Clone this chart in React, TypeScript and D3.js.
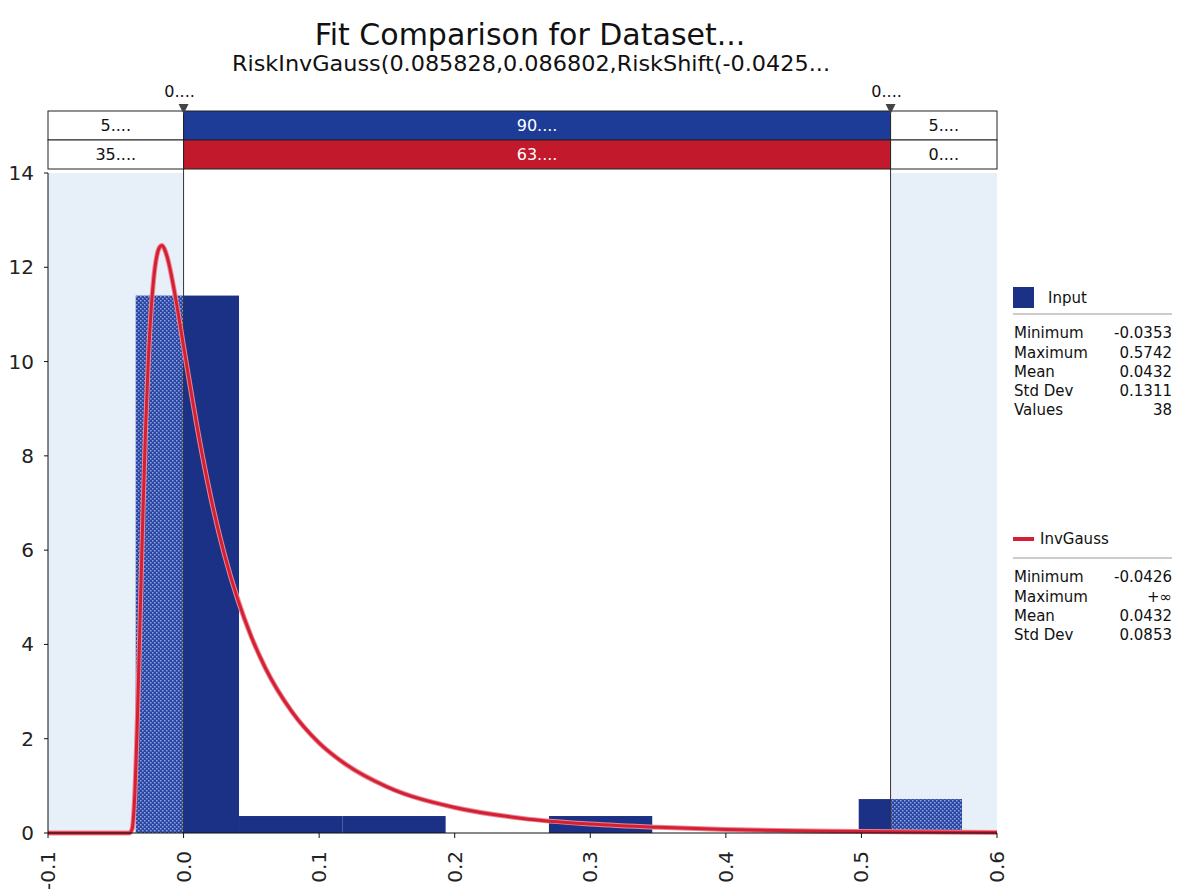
import React from "react";
import * as d3 from "d3";

const titleText = "Fit Comparison for Dataset...";
const subtitleText = "RiskInvGauss(0.085828,0.086802,RiskShift(-0.0425...";

const xTicks = [-0.1, 0, 0.1, 0.2, 0.3, 0.4, 0.5, 0.6];
const xTickLabels = ["-0.1", "0.0", "0.1", "0.2", "0.3", "0.4", "0.5", "0.6"];
const yTicks = [0, 2, 4, 6, 8, 10, 12, 14];

const binEdges = [-0.0353, 0.0409, 0.1171, 0.1933, 0.2695, 0.3457, 0.4219, 0.498, 0.5742];
const binDensity = [11.4, 0.36, 0.36, 0, 0.36, 0, 0, 0.72];

const markers = [0.0, 0.5215];
const markerLabels = ["0....", "0...."];
const inputPct = ["5....", "90....", "5...."];
const fitPct = ["35....", "63....", "0...."];

const curveX = [-0.1, -0.0426, -0.04, -0.038, -0.036, -0.034, -0.032, -0.03, -0.028, -0.026, -0.024, -0.022, -0.02, -0.018, -0.016, -0.014, -0.012, -0.01, -0.008, -0.005, 0, 0.005, 0.01, 0.02, 0.03, 0.04, 0.05, 0.06, 0.08, 0.1, 0.12, 0.15, 0.2, 0.25, 0.3, 0.35, 0.4, 0.45, 0.5, 0.55, 0.6];
const curveY = [0, 0, 0.0001, 0.08, 0.81, 2.48, 4.64, 6.77, 8.6, 10.03, 11.07, 11.77, 12.2, 12.41, 12.46, 12.38, 12.21, 11.97, 11.68, 11.2, 10.32, 9.45, 8.61, 7.13, 5.92, 4.95, 4.16, 3.52, 2.57, 1.91, 1.45, 0.98, 0.54, 0.31, 0.19, 0.12, 0.073, 0.047, 0.031, 0.02, 0.013];

const inputStatsLabels = ["Minimum", "Maximum", "Mean", "Std Dev", "Values"];
const inputStatsValues = ["-0.0353", "0.5742", "0.0432", "0.1311", "38"];
const fitStatsLabels = ["Minimum", "Maximum", "Mean", "Std Dev"];
const fitStatsValues = ["-0.0426", "+\u221e", "0.0432", "0.0853"];

const W = 1177;
const H = 892;
const M = { left: 48, right: 997, top: 173, bottom: 833 };
const FONT = "'DejaVu Sans', Verdana, sans-serif";
const BAR = "#1a3186";
const BLUE_TOP = "#1d3c97";
const RED_TOP = "#c21a2c";
const CURVE = "#d22035";
const SHADE = "#e7eff8";

export default function App() {
  const x = d3.scaleLinear().domain([-0.1, 0.6]).range([M.left, M.right]);
  const y = d3.scaleLinear().domain([0, 14]).range([M.bottom, M.top]);
  const m0 = x(markers[0]);
  const m1 = x(markers[1]);

  const line = d3
    .line<number>()
    .x((_, i) => x(curveX[i]))
    .y((d) => y(d))
    .curve(d3.curveMonotoneX);

  const row1Y = 111;
  const row2Y = 140;
  const rowH = 29;

  const segs: { x0: number; x1: number; h: number; hatched: boolean }[] = [];
  binDensity.forEach((d, i) => {
    if (d <= 0) return;
    const a = binEdges[i];
    const b = binEdges[i + 1];
    const cuts = [a, ...markers.filter((m) => m > a && m < b), b];
    for (let k = 0; k < cuts.length - 1; k++) {
      const mid = (cuts[k] + cuts[k + 1]) / 2;
      segs.push({
        x0: cuts[k],
        x1: cuts[k + 1],
        h: d,
        hatched: mid < markers[0] || mid > markers[1],
      });
    }
  });

  const boxes = [
    { x0: M.left, x1: m0 },
    { x0: m0, x1: m1 },
    { x0: m1, x1: M.right },
  ];

  const legX = 1013;
  const legR = 1172;

  return (
    <svg
      width={W}
      height={H}
      style={{ position: "absolute", left: 0, top: 0, background: "#fff" }}
      fontFamily={FONT}
    >
      <defs>
        <pattern id="hatch" width="4" height="4" patternUnits="userSpaceOnUse">
          <rect width="4" height="4" fill="#2a46a4" />
          <rect x="0" y="0" width="1.5" height="1.5" fill="#8fa2d8" />
          <rect x="2" y="2" width="1.5" height="1.5" fill="#8fa2d8" />
        </pattern>
      </defs>

      <text x={530} y={45} textAnchor="middle" fontSize={30} fill="#111">
        {titleText}
      </text>
      <text
        x={531}
        y={71}
        textAnchor="middle"
        fontSize={21}
        fill="#111"
        textLength={598}
        lengthAdjust="spacingAndGlyphs"
      >
        {subtitleText}
      </text>

      <rect x={M.left} y={M.top} width={m0 - M.left} height={M.bottom - M.top} fill={SHADE} />
      <rect x={m1} y={M.top} width={M.right - m1} height={M.bottom - M.top} fill={SHADE} />

      {segs.map((s, i) => (
        <rect
          key={i}
          x={x(s.x0)}
          y={y(s.h)}
          width={x(s.x1) - x(s.x0)}
          height={y(0) - y(s.h)}
          fill={s.hatched ? "url(#hatch)" : BAR}
        />
      ))}

      {[m0, m1].map((mx, i) => (
        <line key={i} x1={mx} x2={mx} y1={row1Y} y2={M.bottom} stroke="#333" strokeWidth={1} />
      ))}

      <path d={line(curveY) || ""} fill="none" stroke="#ee8592" strokeWidth={5} />
      <path d={line(curveY) || ""} fill="none" stroke={CURVE} strokeWidth={3} />

      {boxes.map((b, i) => (
        <g key={i}>
          <rect
            x={b.x0}
            y={row1Y}
            width={b.x1 - b.x0}
            height={rowH}
            fill={i === 1 ? BLUE_TOP : "#fff"}
            stroke="#222"
            strokeWidth={1}
          />
          <rect
            x={b.x0}
            y={row2Y}
            width={b.x1 - b.x0}
            height={rowH}
            fill={i === 1 ? RED_TOP : "#fff"}
            stroke="#222"
            strokeWidth={1}
          />
          <text
            x={(b.x0 + b.x1) / 2}
            y={row1Y + rowH / 2}
            dy="0.35em"
            textAnchor="middle"
            fontSize={16}
            fill={i === 1 ? "#fff" : "#111"}
          >
            {inputPct[i]}
          </text>
          <text
            x={(b.x0 + b.x1) / 2}
            y={row2Y + rowH / 2}
            dy="0.35em"
            textAnchor="middle"
            fontSize={16}
            fill={i === 1 ? "#fff" : "#111"}
          >
            {fitPct[i]}
          </text>
        </g>
      ))}

      {[m0, m1].map((mx, i) => (
        <g key={i}>
          <text x={mx - 4} y={97} textAnchor="middle" fontSize={16} fill="#111">
            {markerLabels[i]}
          </text>
          <path d={`M${mx - 5},${104} L${mx + 5},${104} L${mx},${114} Z`} fill="#444" />
        </g>
      ))}

      <line x1={M.left} x2={M.left} y1={M.top} y2={M.bottom} stroke="#111" />
      <line x1={M.left} x2={M.right} y1={M.bottom} y2={M.bottom} stroke="#111" />
      {yTicks.map((t) => (
        <g key={t}>
          <line x1={M.left - 4} x2={M.left} y1={y(t)} y2={y(t)} stroke="#111" />
          <text x={M.left - 14} y={y(t)} dy="0.35em" textAnchor="end" fontSize={20} fill="#222">
            {t}
          </text>
        </g>
      ))}
      {xTicks.map((t, i) => (
        <g key={t}>
          <line x1={x(t)} x2={x(t)} y1={M.bottom} y2={M.bottom + 5} stroke="#111" />
          <text
            transform={`translate(${x(t)},${M.bottom + 18}) rotate(-90)`}
            dy="0.35em"
            textAnchor="end"
            fontSize={20}
            fill="#222"
          >
            {xTickLabels[i]}
          </text>
        </g>
      ))}

      <rect x={legX} y={287} width={21} height={21} fill={BAR} />
      <text x={legX + 35} y={298} dy="0.35em" fontSize={15} fill="#111">
        Input
      </text>
      <line x1={legX} x2={legR} y1={314} y2={314} stroke="#999" />
      {inputStatsLabels.map((l, i) => (
        <g key={l}>
          <text x={legX + 1} y={333 + i * 19.3} dy="0.35em" fontSize={15} fill="#111">
            {l}
          </text>
          <text x={legR} y={333 + i * 19.3} dy="0.35em" textAnchor="end" fontSize={15} fill="#111">
            {inputStatsValues[i]}
          </text>
        </g>
      ))}
      <line x1={legX} x2={legX + 21} y1={539} y2={539} stroke={CURVE} strokeWidth={4} />
      <text x={legX + 27} y={539} dy="0.35em" fontSize={15} fill="#111">
        InvGauss
      </text>
      <line x1={legX} x2={legR} y1={558} y2={558} stroke="#999" />
      {fitStatsLabels.map((l, i) => (
        <g key={l}>
          <text x={legX + 1} y={577 + i * 19.3} dy="0.35em" fontSize={15} fill="#111">
            {l}
          </text>
          <text x={legR} y={577 + i * 19.3} dy="0.35em" textAnchor="end" fontSize={15} fill="#111">
            {fitStatsValues[i]}
          </text>
        </g>
      ))}
    </svg>
  );
}
